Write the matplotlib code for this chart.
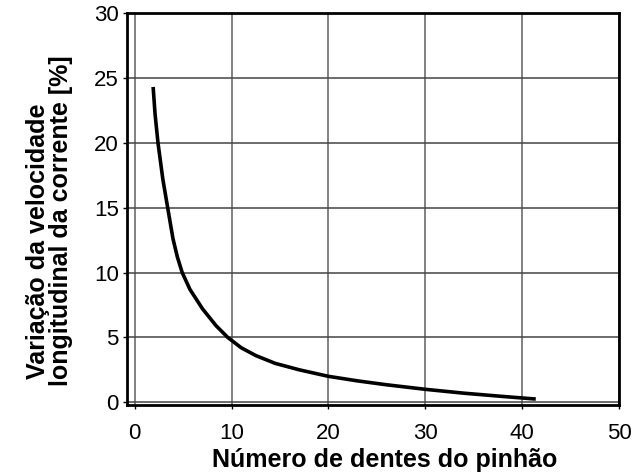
import numpy as np
import matplotlib
import matplotlib.pyplot as plt

matplotlib.use('Agg')

plt.rcParams['font.family'] = ['Liberation Sans', 'DejaVu Sans']

# Pontos
dentes = [1.9, 2.1, 2.4, 2.9, 3.4, 3.95, 4.4, 4.9, 5.7, 7.0, 8.4, 9.6, 11.0,
          12.5, 14.5, 17, 20, 23, 26, 30, 34, 38, 41.4]
variacao = [24.3, 22.2, 20, 17.2, 15, 12.6, 11.2, 10, 8.7, 7.2, 5.9, 5.0, 4.2,
            3.6, 3.0, 2.5, 2.0, 1.65, 1.35, 1.0, 0.7, 0.45, 0.25]

x_ticks = [0, 10, 20, 30, 40, 50]
y_ticks = [0, 5, 10, 15, 20, 25, 30]

W, H = 633, 473
fig = plt.figure(figsize=(6.33, 4.73), dpi=100)
ax = fig.add_axes([0.2006, 0.144, 0.7774, 0.8285])

ax.plot(dentes, variacao, color='black', linewidth=2.6, solid_capstyle='butt')

ax.set_xlim(-0.8, 50)
ax.set_ylim(-0.2, 30)
ax.set_xticks(x_ticks)
ax.set_yticks(y_ticks)
ax.tick_params(length=3, width=1, labelsize=16)
ax.tick_params(axis='x', pad=10)
ax.tick_params(axis='y', pad=3)
ax.grid(True, axis='x', color='#777777', linewidth=1.3)
ax.grid(True, axis='y', color='#444444', linewidth=1.1)
ax.set_axisbelow(True)
for s in ax.spines.values():
    s.set_linewidth(2)

# Títulos dos eixos
fig.text(385 / W, 1 - 467 / H, 'Número de dentes do pinhão', fontsize=18,
         fontweight='bold', ha='center', va='baseline')
fig.text(38 / W, 1 - 241 / H, 'Variação da velocidade', fontsize=18,
         fontweight='bold', rotation=90, ha='center', va='center')
fig.text(61 / W, 1 - 221 / H, 'longitudinal da corrente [%]', fontsize=18,
         fontweight='bold', rotation=90, ha='center', va='center')

fig.savefig('out.png', dpi=100)
